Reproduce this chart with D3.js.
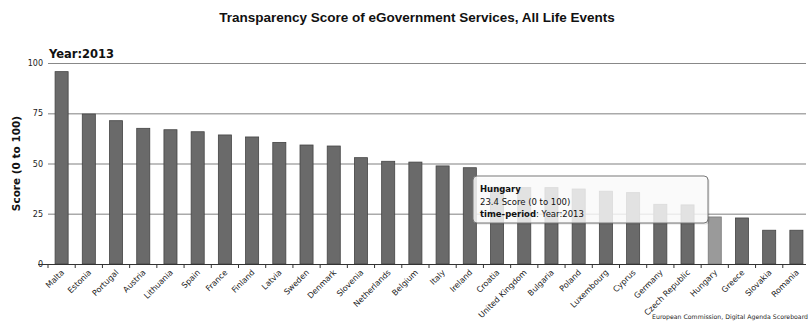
<!DOCTYPE html>
<html>
<head>
<meta charset="utf-8">
<script src="https://cdn.jsdelivr.net/npm/d3@7"></script>
<style>
  html, body { margin: 0; padding: 0; background: #fff; }
  svg { display: block; }
</style>
</head>
<body>
<svg id="chart" width="811" height="322"></svg>
<script>
const countries = ["Malta","Estonia","Portugal","Austria","Lithuania","Spain","France","Finland","Latvia","Sweden","Denmark","Slovenia","Netherlands","Belgium","Italy","Ireland","Croatia","United Kingdom","Bulgaria","Poland","Luxembourg","Cyprus","Germany","Czech Republic","Hungary","Greece","Slovakia","Romania"];
const scores = [95.7,74.6,71.3,67.5,66.8,65.8,64.2,63.2,60.5,59.2,58.7,52.9,51.1,50.7,48.8,47.9,38.2,38.0,38.0,37.3,36.2,35.5,29.7,29.4,23.4,22.9,16.8,16.8];
const yTicks = [0,25,50,75,100];
const highlighted = "Hungary";
const titleText = "Transparency Score of eGovernment Services, All Life Events";
const periodText = "Year:2013";
const yTitle = "Score (0 to 100)";
const sourceText = "European Commission, Digital Agenda Scoreboard";

const svg = d3.select("#chart");
const m = {left: 48, right: 1, top: 63, bottom: 58};
const W = 811, H = 322;

const x = d3.scaleBand().domain(countries).range([m.left, W - m.right]).paddingInner(0.52).paddingOuter(0.26);
const y = d3.scaleLinear().domain([0, 100]).range([H - m.bottom, m.top]);

// title
svg.append("text").attr("x", 417).attr("y", 22).attr("text-anchor", "middle")
  .attr("font-family", "Liberation Sans, Arial, sans-serif").attr("font-weight", "bold")
  .attr("font-size", 13.5).attr("fill", "#111").text(titleText);

// gridlines
svg.append("g").selectAll("line").data(yTicks.filter(d => d > 0)).join("line")
  .attr("x1", m.left).attr("x2", 806)
  .attr("y1", d => y(d) + 0.5).attr("y2", d => y(d) + 0.5)
  .attr("stroke", d => d === 100 ? "#888" : "#aaa").attr("stroke-width", d => d === 100 ? 1.2 : 1.5);

// y tick labels
svg.append("g").selectAll("text").data(yTicks).join("text")
  .attr("x", 43).attr("y", d => y(d) + 3).attr("text-anchor", "end")
  .attr("font-family", "DejaVu Sans, sans-serif").attr("font-size", 8)
  .attr("fill", "#222").text(d => d);

// y title
svg.append("text").attr("transform", `translate(20,${(y(0)+y(100))/2}) rotate(-90)`)
  .attr("text-anchor", "middle").attr("font-family", "DejaVu Sans, sans-serif")
  .attr("font-weight", "bold").attr("font-size", 10.5).attr("fill", "#111").text(yTitle);

// period label
svg.append("text").attr("x", m.left + 1).attr("y", 58)
  .attr("font-family", "DejaVu Sans, sans-serif").attr("font-weight", "bold")
  .attr("font-size", 11.5).attr("fill", "#111").text(periodText);

// bars
svg.append("g").selectAll("rect").data(countries).join("rect")
  .attr("x", d => x(d)).attr("width", x.bandwidth())
  .attr("y", (d, i) => y(scores[i])).attr("height", (d, i) => y(0) - y(scores[i]))
  .attr("fill", d => d === highlighted ? "#9a9a9a" : "#6a6a6a")
  .attr("stroke", d => d === highlighted ? "#7a7a7a" : "#444").attr("stroke-width", 0.8);

// x axis
const boundaries = countries.map(c => x(c) - (x.step() - x.bandwidth()) / 2);
const axis = svg.append("g");
axis.append("line").attr("x1", m.left).attr("x2", 806).attr("y1", y(0) + 0.5).attr("y2", y(0) + 0.5)
  .attr("stroke", "#333").attr("stroke-width", 1.2);
axis.selectAll("line.tick").data(boundaries).join("line").attr("class", "tick")
  .attr("x1", d => d).attr("x2", d => d).attr("y1", y(0)).attr("y2", y(0) + 4)
  .attr("stroke", "#333");
axis.append("line").attr("x1", 38).attr("x2", m.left).attr("y1", y(0) + 0.5).attr("y2", y(0) + 0.5)
  .attr("stroke", "#333");

// x labels
svg.append("g").selectAll("text").data(countries).join("text")
  .attr("transform", d => `translate(${x(d) + x.bandwidth() / 2 + 3},${y(0) + 9}) rotate(-45)`)
  .attr("text-anchor", "end").attr("font-family", "DejaVu Sans, sans-serif")
  .attr("font-size", 8).attr("fill", "#222").text(d => d);

// source
svg.append("text").attr("x", 808).attr("y", 319).attr("text-anchor", "end")
  .attr("font-family", "DejaVu Sans, sans-serif").attr("font-size", 6.2)
  .attr("fill", "#222").text(sourceText);

// tooltip
const hi = countries.indexOf(highlighted);
const tip = svg.append("g").attr("transform", "translate(473,176)");
tip.append("rect").attr("x", 1.5).attr("y", 1.5).attr("width", 235).attr("height", 47).attr("rx", 4)
  .attr("fill", "#000").attr("opacity", 0.12);
tip.append("rect").attr("width", 235).attr("height", 47).attr("rx", 4)
  .attr("fill", "#fff").attr("fill-opacity", 0.82).attr("stroke", "#777").attr("stroke-width", 1);
tip.append("text").attr("x", 7).attr("y", 16).attr("font-family", "DejaVu Sans, sans-serif")
  .attr("font-weight", "bold").attr("font-size", 8.5).attr("fill", "#111").text(countries[hi]);
tip.append("text").attr("x", 7).attr("y", 29).attr("font-family", "DejaVu Sans, sans-serif")
  .attr("font-size", 8.5).attr("fill", "#111").text(`${scores[hi]} ${yTitle}`);
const t3 = tip.append("text").attr("x", 7).attr("y", 41).attr("font-family", "DejaVu Sans, sans-serif")
  .attr("font-size", 8.5).attr("fill", "#111");
t3.append("tspan").attr("font-weight", "bold").text("time-period");
t3.append("tspan").text(": " + periodText);
</script>
</body>
</html>
